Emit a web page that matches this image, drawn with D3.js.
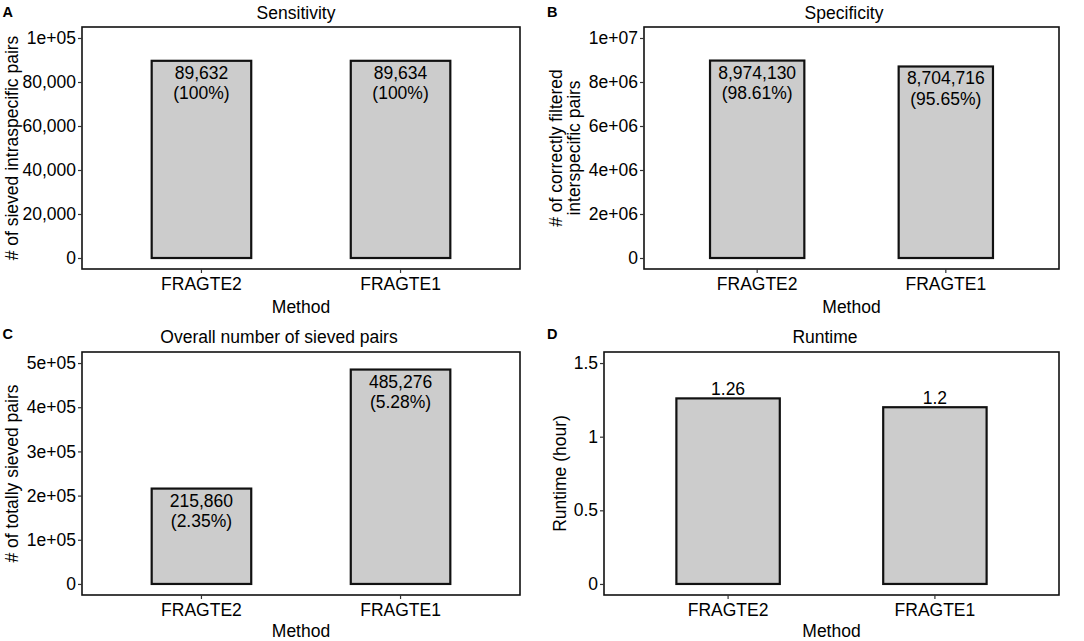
<!DOCTYPE html>
<html>
<head>
<meta charset="utf-8">
<script src="https://cdn.jsdelivr.net/npm/d3@7"></script>
<style>
  html, body { margin: 0; padding: 0; background: #fff; }
  svg { display: block; font-family: "Liberation Sans", Arial, Helvetica, sans-serif; }
</style>
</head>
<body>
<svg id="chart" width="1084" height="641"></svg>
<script>
// ---- data ----
const methods = ["FRAGTE2", "FRAGTE1"];

const sensitivityValues = [89632, 89634];
const sensitivityPct = ["100%", "100%"];
const sensitivityTicks = [0, 20000, 40000, 60000, 80000, 100000];
const sensitivityTickLabels = ["0", "20,000", "40,000", "60,000", "80,000", "1e+05"];

const specificityValues = [8974130, 8704716];
const specificityPct = ["98.61%", "95.65%"];
const specificityTicks = [0, 2e6, 4e6, 6e6, 8e6, 1e7];
const specificityTickLabels = ["0", "2e+06", "4e+06", "6e+06", "8e+06", "1e+07"];

const overallValues = [215860, 485276];
const overallPct = ["2.35%", "5.28%"];
const overallTicks = [0, 1e5, 2e5, 3e5, 4e5, 5e5];
const overallTickLabels = ["0", "1e+05", "2e+05", "3e+05", "4e+05", "5e+05"];

const runtimeValues = [1.26, 1.2];
const runtimeTicks = [0, 0.5, 1, 1.5];
const runtimeTickLabels = ["0", "0.5", "1", "1.5"];

// ---- layout ----
const panels = [
  { letter: "A", title: "Sensitivity", values: sensitivityValues, pct: sensitivityPct,
    ticks: sensitivityTicks, tickLabels: sensitivityTickLabels, yMax: 1e5,
    yTitle: ["# of sieved intraspecific pairs"], yTitleX: [12],
    box: { l: 82, r: 520, t: 27, b: 269 }, titleX: 296, titleY: 19, letterX: 2.5, letterY: 17,
    xLabY: 290, methodY: 313, labelMode: "inside" },
  { letter: "B", title: "Specificity", values: specificityValues, pct: specificityPct,
    ticks: specificityTicks, tickLabels: specificityTickLabels, yMax: 1e7,
    yTitle: ["# of correctly filtered", "interspecific pairs"], yTitleX: [556, 574],
    box: { l: 644, r: 1059, t: 27, b: 269 }, titleX: 844, titleY: 19, letterX: 547, letterY: 17,
    xLabY: 290, methodY: 313, labelMode: "inside" },
  { letter: "C", title: "Overall number of sieved pairs", values: overallValues, pct: overallPct,
    ticks: overallTicks, tickLabels: overallTickLabels, yMax: 5e5,
    yTitle: ["# of totally sieved pairs"], yTitleX: [12],
    box: { l: 82, r: 520, t: 352, b: 595 }, titleX: 279, titleY: 343, letterX: 2.5, letterY: 339,
    xLabY: 616, methodY: 637, labelMode: "inside" },
  { letter: "D", title: "Runtime", values: runtimeValues, pct: null,
    ticks: runtimeTicks, tickLabels: runtimeTickLabels, yMax: 1.5,
    yTitle: ["Runtime (hour)"], yTitleX: [560],
    box: { l: 604, r: 1059, t: 352, b: 595 }, titleX: 825, titleY: 343, letterX: 547, letterY: 339,
    xLabY: 616, methodY: 637, labelMode: "above" }
];

const svg = d3.select("#chart");
const FS = 17.5;
const fmt = d3.format(",");

panels.forEach(p => {
  const g = svg.append("g");
  const bx = p.box;

  const x = d3.scaleBand().domain(methods).range([bx.l, bx.r])
    .paddingInner(0.5).paddingOuter(0.35);
  const y = d3.scaleLinear().domain([-0.05 * p.yMax, 1.05 * p.yMax]).range([bx.b, bx.t]);

  // bars
  g.selectAll("rect.bar").data(methods).enter().append("rect")
    .attr("class", "bar")
    .attr("x", d => x(d))
    .attr("width", x.bandwidth())
    .attr("y", (d, i) => y(p.values[i]))
    .attr("height", (d, i) => y(0) - y(p.values[i]))
    .attr("fill", "#cccccc")
    .attr("stroke", "#111")
    .attr("stroke-width", 2.2);

  // bar labels
  methods.forEach((m, i) => {
    const cx = x(m) + x.bandwidth() / 2;
    const top = y(p.values[i]);
    if (p.labelMode === "inside") {
      g.append("text").attr("x", cx).attr("y", top + 18)
        .attr("text-anchor", "middle").attr("font-size", FS).attr("fill", "#000")
        .text(fmt(p.values[i]));
      g.append("text").attr("x", cx).attr("y", top + 38.5)
        .attr("text-anchor", "middle").attr("font-size", FS).attr("fill", "#000")
        .text("(" + p.pct[i] + ")");
    } else {
      g.append("text").attr("x", cx).attr("y", top - 3)
        .attr("text-anchor", "middle").attr("font-size", FS).attr("fill", "#000")
        .text(String(p.values[i]));
    }
  });

  // panel border
  g.append("rect").attr("x", bx.l).attr("y", bx.t)
    .attr("width", bx.r - bx.l).attr("height", bx.b - bx.t)
    .attr("fill", "none").attr("stroke", "#111").attr("stroke-width", 1.6);

  // y axis
  const yAxis = d3.axisLeft(y).tickValues(p.ticks)
    .tickFormat((d, i) => p.tickLabels[i]).tickSize(4).tickPadding(2);
  const ya = g.append("g").attr("transform", `translate(${bx.l},0)`).call(yAxis);
  ya.select(".domain").remove();
  ya.selectAll("line").attr("stroke", "#333").attr("stroke-width", 1.2);
  ya.selectAll("text").attr("font-size", FS).attr("fill", "#000")
    .attr("font-family", "Liberation Sans, Arial, sans-serif");

  // x axis
  const xAxis = d3.axisBottom(x).tickSize(4).tickPadding(0);
  const xa = g.append("g").attr("transform", `translate(0,${bx.b})`).call(xAxis);
  xa.select(".domain").remove();
  xa.selectAll("line").attr("stroke", "#333").attr("stroke-width", 1.2);
  xa.selectAll("text").attr("font-size", FS).attr("fill", "#000")
    .attr("font-family", "Liberation Sans, Arial, sans-serif")
    .attr("y", null).attr("dy", null)
    .attr("transform", `translate(0,${p.xLabY - bx.b})`);

  // x axis title
  g.append("text").attr("x", (bx.l + bx.r) / 2).attr("y", p.methodY)
    .attr("text-anchor", "middle").attr("font-size", FS).attr("fill", "#000")
    .text("Method");

  // y axis title
  const cy = (bx.t + bx.b) / 2;
  p.yTitle.forEach((t, k) => {
    g.append("text")
      .attr("transform", `translate(${p.yTitleX[k]},${cy}) rotate(-90)`)
      .attr("dy", "0.35em")
      .attr("text-anchor", "middle").attr("font-size", FS).attr("fill", "#000")
      .text(t);
  });

  // title
  g.append("text").attr("x", p.titleX).attr("y", p.titleY)
    .attr("text-anchor", "middle").attr("font-size", FS).attr("fill", "#000")
    .text(p.title);

  // panel letter
  g.append("text").attr("x", p.letterX).attr("y", p.letterY)
    .attr("font-size", 14.5).attr("font-weight", "bold").attr("fill", "#000")
    .text(p.letter);
});
</script>
</body>
</html>
